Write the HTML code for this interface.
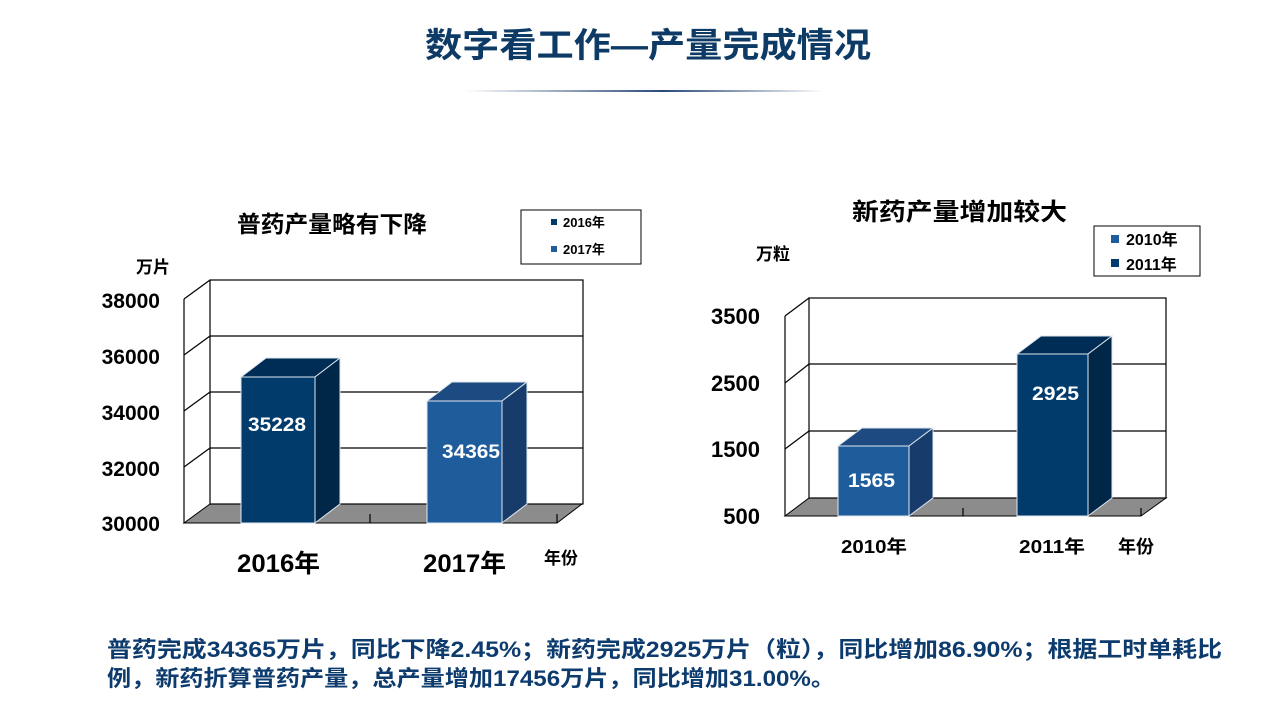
<!DOCTYPE html>
<html><head><meta charset="utf-8"><style>
html,body{margin:0;padding:0;background:#fff;}
svg{display:block;}
text{font-family:"Liberation Sans","Noto Sans CJK SC",sans-serif;font-weight:bold;}
</style></head><body>
<svg width="1280" height="720" viewBox="0 0 1280 720" xmlns="http://www.w3.org/2000/svg">
<defs>
<linearGradient id="ln" x1="0" x2="1" y1="0" y2="0">
<stop offset="0" stop-color="#fff"/><stop offset="0.55" stop-color="#2a4a78"/><stop offset="1" stop-color="#fff"/>
</linearGradient>
</defs>
<text x="648" y="57" font-size="34" fill="#0d3b66" text-anchor="middle" textLength="446" lengthAdjust="spacingAndGlyphs">数字看工作—产量完成情况</text>
<rect x="465" y="90" width="360" height="2" fill="url(#ln)"/>

<!-- Left chart -->
<text x="237" y="232" font-size="23" fill="#000" textLength="190" lengthAdjust="spacingAndGlyphs">普药产量略有下降</text>
<rect x="521" y="210" width="120" height="54" fill="#fff" stroke="#000" stroke-width="1"/>
<rect x="551" y="219" width="6" height="6" fill="#003b6b"/>
<text x="563" y="227" font-size="13" fill="#000">2016年</text>
<rect x="551" y="246" width="6" height="6" fill="#1f5c9c"/>
<text x="563" y="254" font-size="13" fill="#000">2017年</text>
<text x="136" y="273" font-size="17" fill="#000">万片</text>
<g font-size="21" fill="#000" text-anchor="end">
<text x="160" y="308">38000</text><text x="160" y="364">36000</text><text x="160" y="420">34000</text><text x="160" y="476">32000</text><text x="160" y="531">30000</text>
</g>
<polygon points="184,523 557,523 582,504 210,504" fill="#8c8c8c" stroke="#000" stroke-width="1"/>
<rect x="210" y="280" width="373" height="224" fill="none" stroke="#000" stroke-width="1.2"/>
<g stroke="#000" stroke-width="1.2" fill="none">
<line x1="210" y1="336" x2="583" y2="336"/><line x1="210" y1="392" x2="583" y2="392"/><line x1="210" y1="448" x2="583" y2="448"/>
<line x1="184" y1="299" x2="184" y2="523"/>
<line x1="184" y1="299" x2="210" y2="280"/><line x1="184" y1="355" x2="210" y2="336"/><line x1="184" y1="411" x2="210" y2="392"/><line x1="184" y1="467" x2="210" y2="448"/>
<line x1="370" y1="514" x2="370" y2="523"/><line x1="557" y1="514" x2="557" y2="523"/>
</g>
<g stroke="#dfe6ee" stroke-width="1">
<polygon points="241,377 315,377 340,358 266,358" fill="#002d55"/>
<polygon points="315,377 340,358 340,504 315,523" fill="#002747"/>
<rect x="241" y="377" width="74" height="146" fill="#003b6b"/>
<polygon points="427,401 502,401 527,382 452,382" fill="#1d4a80"/>
<polygon points="502,401 527,382 527,504 502,523" fill="#173c6c"/>
<rect x="427" y="401" width="75" height="122" fill="#1f5c9c"/>
</g>
<text x="248" y="431" font-size="19" fill="#fff" textLength="58" lengthAdjust="spacingAndGlyphs">35228</text>
<text x="442" y="458" font-size="19" fill="#fff" textLength="58" lengthAdjust="spacingAndGlyphs">34365</text>
<text x="237" y="572" font-size="25" fill="#000" textLength="83" lengthAdjust="spacingAndGlyphs">2016年</text>
<text x="423" y="572" font-size="25" fill="#000" textLength="83" lengthAdjust="spacingAndGlyphs">2017年</text>
<text x="561" y="564" font-size="17" fill="#000" text-anchor="middle">年份</text>

<!-- Right chart -->
<text x="852" y="220" font-size="24" fill="#000" textLength="215" lengthAdjust="spacingAndGlyphs">新药产量增加较大</text>
<rect x="1094" y="226" width="106" height="50" fill="#fff" stroke="#000" stroke-width="1"/>
<rect x="1111" y="235" width="8" height="8" fill="#1f5c9c"/>
<text x="1126" y="245" font-size="16" fill="#000">2010年</text>
<rect x="1111" y="259" width="8" height="8" fill="#003b6b"/>
<text x="1126" y="270" font-size="16" fill="#000">2011年</text>
<text x="756" y="260" font-size="17" fill="#000">万粒</text>
<g font-size="22" fill="#000" text-anchor="end">
<text x="760" y="324">3500</text><text x="760" y="391">2500</text><text x="760" y="457">1500</text><text x="760" y="524">500</text>
</g>
<polygon points="785,516 1141,516 1166,498 809,498" fill="#8c8c8c" stroke="#000" stroke-width="1"/>
<rect x="809" y="298" width="357" height="200" fill="none" stroke="#000" stroke-width="1.2"/>
<g stroke="#000" stroke-width="1.2" fill="none">
<line x1="809" y1="364" x2="1166" y2="364"/><line x1="809" y1="431" x2="1166" y2="431"/>
<line x1="785" y1="316" x2="785" y2="516"/>
<line x1="785" y1="316" x2="809" y2="298"/><line x1="785" y1="383" x2="809" y2="364"/><line x1="785" y1="449" x2="809" y2="431"/>
<line x1="963" y1="508" x2="963" y2="516"/><line x1="1141" y1="508" x2="1141" y2="516"/>
</g>
<g stroke="#dfe6ee" stroke-width="1">
<polygon points="838,446 909,446 933,428 862,428" fill="#1d4a80"/>
<polygon points="909,446 933,428 933,498 909,516" fill="#173c6c"/>
<rect x="838" y="446" width="71" height="70" fill="#1f5c9c"/>
<polygon points="1017,354 1088,354 1112,336 1041,336" fill="#002d55"/>
<polygon points="1088,354 1112,336 1112,498 1088,516" fill="#002747"/>
<rect x="1017" y="354" width="71" height="162" fill="#003b6b"/>
</g>
<text x="848" y="487" font-size="19" fill="#fff" textLength="47" lengthAdjust="spacingAndGlyphs">1565</text>
<text x="1032" y="400" font-size="19" fill="#fff" textLength="47" lengthAdjust="spacingAndGlyphs">2925</text>
<text x="841" y="553" font-size="18" fill="#000" textLength="66" lengthAdjust="spacingAndGlyphs">2010年</text>
<text x="1019" y="553" font-size="18" fill="#000" textLength="66" lengthAdjust="spacingAndGlyphs">2011年</text>
<text x="1136" y="553" font-size="18" fill="#000" text-anchor="middle">年份</text>

<!-- Bottom text -->
<text x="107" y="657" font-size="22" fill="#0d3b6e" textLength="1115" lengthAdjust="spacingAndGlyphs">普药完成34365万片，同比下降2.45%；新药完成2925万片（粒），同比增加86.90%；根据工时单耗比</text>
<text x="107" y="686" font-size="22" fill="#0d3b6e" textLength="728" lengthAdjust="spacingAndGlyphs">例，新药折算普药产量，总产量增加17456万片，同比增加31.00%。</text>
</svg>
</body></html>
